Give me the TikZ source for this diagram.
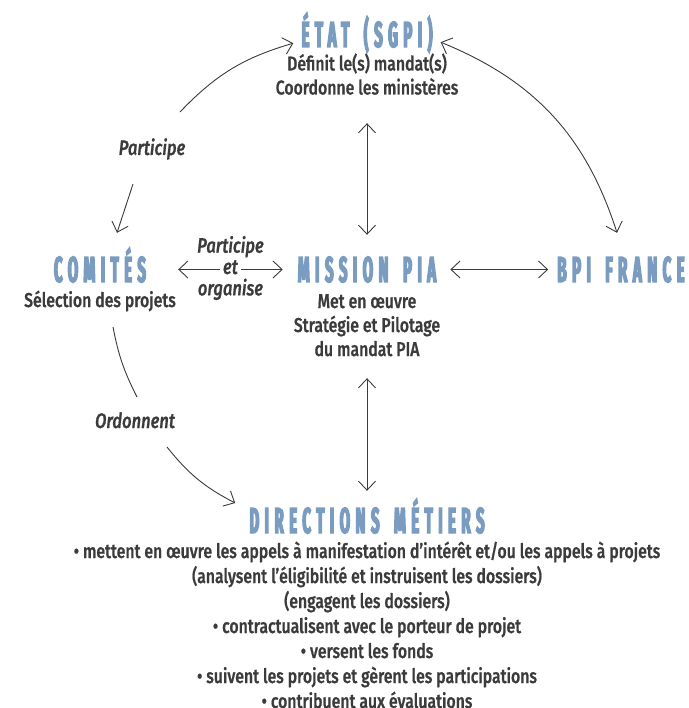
\documentclass[tikz,border=0pt]{standalone}
\usepackage{fontspec}
\setmainfont{Fira Sans}[UprightFont={* Medium}, ItalicFont={* Medium Italic}, FakeStretch=0.79, FakeBold=0.8]
\newfontfamily\titlefont{Fira Sans}[FakeStretch=0.42, LetterSpace=15, FakeBold=3.5, WordSpace=1.6]
\usepackage{xcolor}
\usepackage{tikz}
\usetikzlibrary{positioning,arrows.meta}

\definecolor{piablue}{HTML}{7A9CC0}
\definecolor{piagray}{HTML}{3B3B3B}

\begin{document}
\begin{tikzpicture}[x=1pt,y=-1pt,>={Straight Barb[length=9pt,width=17pt]}]

\useasboundingbox (0,0) rectangle (688,708);
% \draw[step=20,gray,very thin] (0,0) grid (688,708);

\tikzstyle{mytitle} = [piablue, font=\titlefont\bfseries\fontsize{36}{36}\selectfont, inner sep=0pt, text height=25pt, text depth=0pt, anchor=base]
\tikzstyle{mytext} = [piagray, font=\fontsize{20}{24}\selectfont, align=center, inner sep=0pt, anchor=base]
\tikzstyle{mylabel} = [piagray, font=\itshape\fontsize{21}{21}\selectfont, inner sep=0pt, anchor=base]
\tikzstyle{myarrow} = [piagray, line width=0.9pt]

\node (etat) [mytitle] at (367,47) {ÉTAT (SGPI)};
\node (etattext) [mytext] at (367,94.5) {Définit le(s) mandat(s)\\Coordonne les ministères};

\node (comites) [mytitle] at (100,282) {COMITÉS};
\node (comitestext) [mytext] at (100,307) {Sélection des projets};

\node (mission) [mytitle] at (367,282) {MISSION PIA};
\node (missiontext) [mytext] at (367,356) {Met en œuvre\\Stratégie et Pilotage\\du mandat PIA};

\node (bpi) [mytitle] at (621,282) {BPI FRANCE};

\node (dirs) [mytitle] at (367,533) {DIRECTIONS MÉTIERS};
\node (dirstext) [mytext, font=\fontsize{20}{25}\selectfont] at (367,708) {%
• mettent en œuvre les appels à manifestation d’intérêt et/ou les appels à projets\\
(analysent l’éligibilité et instruisent les dossiers)\\
(engagent les dossiers)\\
• contractualisent avec le porteur de projet\\
• versent les fonds\\
• suivent les projets et gèrent les participations\\
• contribuent aux évaluations};

\node (participe) [mylabel] at (152,155) {Participe};
\node (ordonnent) [mylabel] at (135,428) {Ordonnent};

\draw [myarrow,->] ([shift={(28,-43)}]participe.base) to[bend left=15] ([shift={(-8,-4)}]etat.south west);
\draw [myarrow,->] ([shift={(-19,29)}]participe.base) -- ([shift={(17,-24)}]comites.north);
\draw [myarrow,<->] ([shift={(8,-5)}]etat.south east) to[bend left=25] ([shift={(-4,-24)}]bpi.north);

\draw [myarrow,<->] ([shift={(0,76)}]etat.south) -- ([shift={(0,-22)}]mission.north);
\draw [myarrow,<->] ([shift={(0,96)}]mission.south) -- ([shift={(0,-17)}]dirs.north);
\draw [myarrow,<->] ([shift={(14,0)}]mission.east) -- ([shift={(-9,0)}]bpi.west);

\draw [myarrow,<->] ([shift={(32,0)}]comites.east) -- ([shift={(-15,0)}]mission.west)
  node [mylabel, midway, anchor=center, fill=white, inner xsep=3pt, text height=9pt, text depth=0pt] (et) {et};
\node (partorg) [mylabel, above=7pt of et] {Participe};
\node (organise) [mylabel, below=4pt of et] {organise};

\draw [myarrow] ([shift={(13,20)}]comitestext.base) to[bend right=8] ([shift={(2,-31)}]ordonnent.base);
\draw [myarrow,->] ([shift={(32,19)}]ordonnent.base) to[bend right=12] ([shift={(-14,-17.5)}]dirs.west);

\end{tikzpicture}
\end{document}
